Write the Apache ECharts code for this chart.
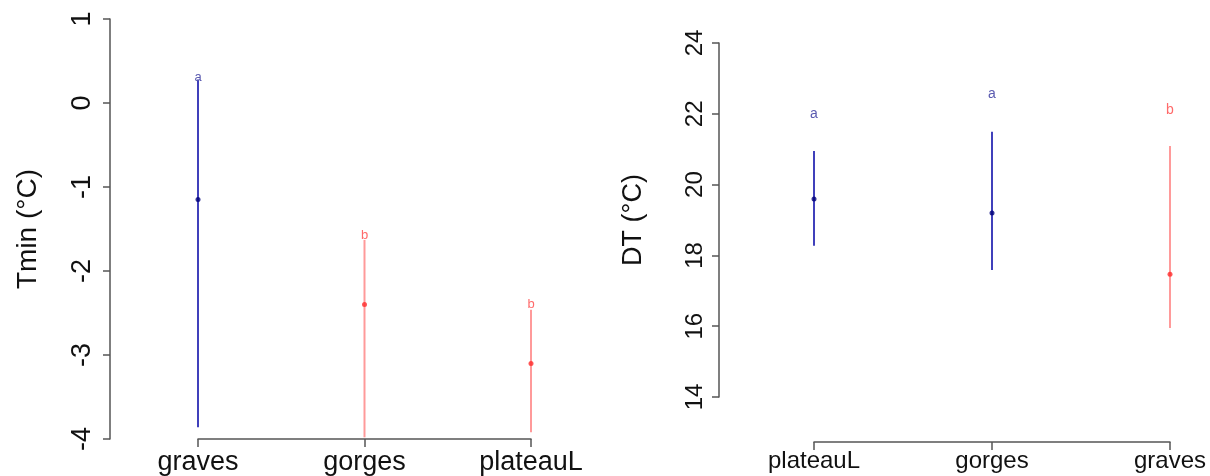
<!DOCTYPE html>
<html>
<head>
<meta charset="utf-8">
<script src="https://cdn.jsdelivr.net/npm/echarts@6/dist/echarts.min.js"></script>
<style>
html,body{margin:0;padding:0;background:#fff;}
#chart{width:1210px;height:476px;}
</style>
</head>
<body>
<div id="chart"></div>
<script>
// ---- Left panel: Tmin ----
const leftCats = ['graves', 'gorges', 'plateauL'];
const leftMean = [-1.15, -2.40, -3.10];
const leftLow = [-3.86, -3.98, -3.92];
const leftHigh = [0.28, -1.63, -2.46];
const leftLetterY = [0.31, -1.58, -2.40];
const leftLetters = ['a', 'b', 'b'];
const leftGroup = ['blue', 'red', 'red'];
const leftTicks = [-4, -3, -2, -1, 0, 1];

// ---- Right panel: DT ----
const rightCats = ['plateauL', 'gorges', 'graves'];
const rightMean = [19.59, 19.20, 17.47];
const rightLow = [18.27, 17.59, 15.95];
const rightHigh = [20.95, 21.49, 21.09];
const rightLetterY = [22.0, 22.56, 22.1];
const rightLetters = ['a', 'a', 'b'];
const rightGroup = ['blue', 'blue', 'red'];
const rightTicks = [14, 16, 18, 20, 22, 24];

const palette = {
  blue: { bar: '#4040bb', dot: '#00007a', text: '#5a5ab0' },
  red:  { bar: '#ff9a9a', dot: '#ff2a2a', text: '#ff6a6a' }
};
const FONT = 'Liberation Sans, Arial, sans-serif';

function barSeries(idx, low, high, group) {
  return {
    type: 'custom', xAxisIndex: idx, yAxisIndex: idx,
    data: low.map((l, i) => [i, l, high[i]]),
    renderItem: function (params, api) {
      const i = api.value(0);
      const p1 = api.coord([i, api.value(1)]);
      const p2 = api.coord([i, api.value(2)]);
      return { type: 'line', shape: { x1: p1[0], y1: p1[1], x2: p2[0], y2: p2[1] },
        style: { stroke: palette[group[params.dataIndex]].bar, lineWidth: 2 } };
    },
    silent: true, z: 2
  };
}
function dotSeries(idx, mean, group) {
  return {
    type: 'scatter', xAxisIndex: idx, yAxisIndex: idx,
    data: mean.map((m, i) => ({ value: [i, m], itemStyle: { color: palette[group[i]].dot } })),
    symbolSize: 5, silent: true, z: 3
  };
}
function letterSeries(idx, ly, letters, group, fs) {
  return {
    type: 'custom', xAxisIndex: idx, yAxisIndex: idx,
    data: ly.map((v, i) => [i, v]),
    renderItem: function (params, api) {
      const p = api.coord([api.value(0), api.value(1)]);
      const k = params.dataIndex;
      return { type: 'text', x: p[0], y: p[1],
        style: { text: letters[k], fill: palette[group[k]].text, font: fs + 'px ' + FONT,
          align: 'center', verticalAlign: 'middle' } };
    },
    silent: true, z: 4
  };
}

function yAxisDef(idx, ticks, name, offset, labelSize, nameSize, nameGap, labelMargin) {
  return {
    gridIndex: idx, type: 'value', min: ticks[0], max: ticks[ticks.length - 1],
    interval: ticks[1] - ticks[0], offset: offset,
    name: name, nameLocation: 'middle', nameRotate: 90, nameGap: nameGap,
    nameTextStyle: { fontFamily: FONT, fontSize: nameSize, color: '#111' },
    axisLine: { show: true, onZero: false, lineStyle: { color: '#555', width: 1.5 } },
    axisTick: { show: true, length: 7, lineStyle: { color: '#555', width: 1.5 } },
    axisLabel: { rotate: 90, margin: labelMargin, fontFamily: FONT, fontSize: labelSize, color: '#111' },
    splitLine: { show: false }
  };
}
function xAxisDef(idx, cats, offset, labelSize, labelMargin) {
  return {
    gridIndex: idx, type: 'category', data: cats, boundaryGap: false, offset: offset,
    axisLine: { show: true, onZero: false, lineStyle: { color: '#555', width: 1.5 } },
    axisTick: { show: true, length: 8, alignWithLabel: true, lineStyle: { color: '#555', width: 1.5 } },
    axisLabel: { margin: labelMargin, fontFamily: FONT, fontSize: labelSize, color: '#111', interval: 0, hideOverlap: false },
    splitLine: { show: false }
  };
}

const chart = echarts.init(document.getElementById('chart'), null, { renderer: 'canvas' });
chart.setOption({
  backgroundColor: '#fff',
  animation: false,
  grid: [
    { left: 198, right: 1210 - 531, top: 19, bottom: 476 - 440 },
    { left: 814, right: 1210 - 1170, top: 43, bottom: 476 - 397 }
  ],
  xAxis: [
    xAxisDef(0, leftCats, 0, 27, 10),
    xAxisDef(1, rightCats, 45, 24, 7)
  ],
  yAxis: [
    yAxisDef(0, leftTicks, 'Tmin (°C)', 88, 27, 28, 68, 14),
    yAxisDef(1, rightTicks, 'DT (°C)', 95, 24, 27, 72, 12)
  ],
  series: [
    barSeries(0, leftLow, leftHigh, leftGroup),
    dotSeries(0, leftMean, leftGroup),
    letterSeries(0, leftLetterY, leftLetters, leftGroup, 13),
    barSeries(1, rightLow, rightHigh, rightGroup),
    dotSeries(1, rightMean, rightGroup),
    letterSeries(1, rightLetterY, rightLetters, rightGroup, 14)
  ]
});
</script>
</body>
</html>
